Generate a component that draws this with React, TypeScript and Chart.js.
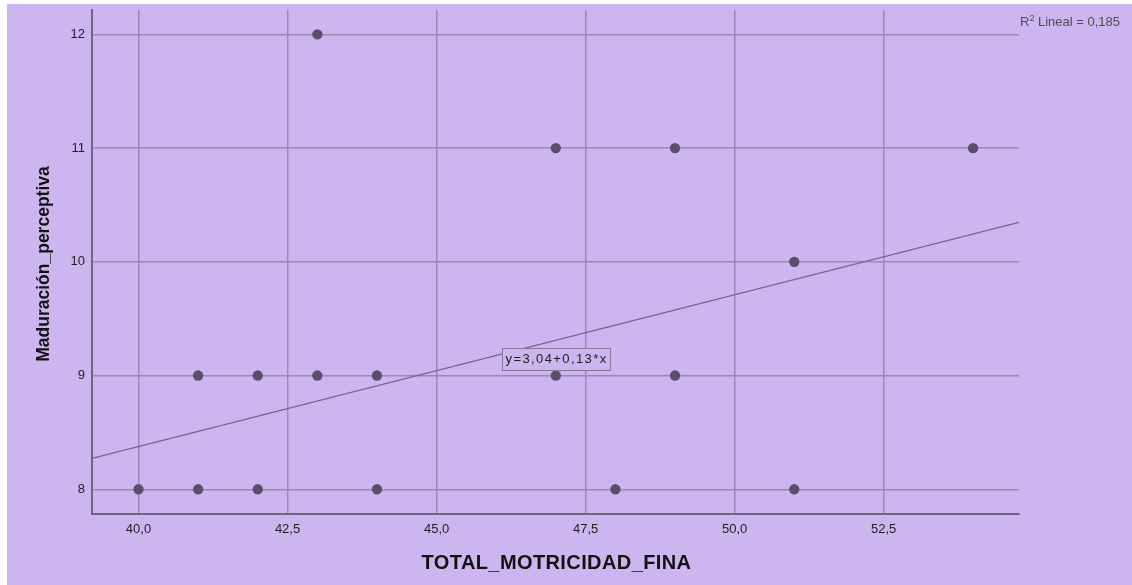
import React, { useEffect, useRef } from 'react';
import { Chart, registerables } from 'chart.js';

Chart.register(...registerables);

// ---- data ----
const xValues = [40, 41, 42, 44, 48, 51, 41, 42, 43, 44, 47, 49, 51, 47, 49, 54, 43];
const yValues = [8, 8, 8, 8, 8, 8, 9, 9, 9, 9, 9, 9, 10, 11, 11, 11, 12];
const xTicks = [40, 42.5, 45, 47.5, 50, 52.5];
const yTicks = [8, 9, 10, 11, 12];
const xRange = [39.22, 54.77];
const yRange = [7.783, 12.214];
const fitIntercept = 3.04;
const fitSlope = 0.1334;
const fitLabel = 'y=3,04+0,13*x';
const fitLabelAt = [47, 9.15];
const r2Value = '0,185';
const xTitle = 'TOTAL_MOTRICIDAD_FINA';
const yTitle = 'Maduración_perceptiva';

const BG = '#CDB6F0';
const GRID = '#9C88B6';
const AXIS = '#6F6482';
const POINT = '#5A4F68';
const FITLINE = '#76648E';
const FONT = '"Liberation Sans", Arial, sans-serif';

const fmtComma = (v: number, d: number) => v.toFixed(d).replace('.', ',');

const textPlugin = {
  id: 'textPlugin',
  afterDraw(chart: any) {
    const { ctx, chartArea, scales } = chart;
    ctx.save();
    // fit label box
    const cx = scales.x.getPixelForValue(fitLabelAt[0]);
    const cy = scales.y.getPixelForValue(fitLabelAt[1]);
    ctx.font = `13px ${FONT}`;
    (ctx as any).letterSpacing = '1.4px';
    const tw = ctx.measureText(fitLabel).width;
    const bw = tw + 6;
    const bh = 22;
    const bx = Math.round(cx - bw / 2) + 0.5;
    const by = Math.round(cy - bh / 2) + 0.5;
    ctx.fillStyle = BG;
    ctx.fillRect(bx, by, bw, bh);
    ctx.strokeStyle = '#857795';
    ctx.lineWidth = 1;
    ctx.strokeRect(bx, by, bw, bh);
    ctx.fillStyle = '#1e1e1e';
    ctx.textAlign = 'left';
    ctx.textBaseline = 'middle';
    ctx.fillText(fitLabel, bx + 3, cy + 1);
    (ctx as any).letterSpacing = '0px';

    // R2 label
    let x = chartArea.right + 1;
    const base = chartArea.top + 16;
    ctx.fillStyle = '#4e4e4e';
    ctx.textBaseline = 'alphabetic';
    ctx.font = `13px ${FONT}`;
    ctx.fillText('R', x, base);
    x += ctx.measureText('R').width;
    ctx.font = `9px ${FONT}`;
    ctx.fillText('2', x, base - 5);
    x += ctx.measureText('2').width;
    ctx.font = `13px ${FONT}`;
    ctx.fillText(' Lineal = ' + r2Value, x, base);

    // axis titles
    ctx.fillStyle = '#111';
    ctx.font = `bold 20px ${FONT}`;
    (ctx as any).letterSpacing = '0.4px';
    ctx.textAlign = 'center';
    ctx.textBaseline = 'middle';
    ctx.fillText(xTitle, (chartArea.left + chartArea.right) / 2 + 1, chartArea.bottom + 49);
    (ctx as any).letterSpacing = '0px';

    ctx.save();
    ctx.translate(37, (chartArea.top + chartArea.bottom) / 2 + 2);
    ctx.rotate(-Math.PI / 2);
    ctx.font = `bold 17.5px ${FONT}`;
    ctx.fillText(yTitle, 0, 0);
    ctx.restore();

    ctx.restore();
  },
};

export default function App() {
  const ref = useRef<HTMLCanvasElement | null>(null);

  useEffect(() => {
    if (!ref.current) return;
    const points = xValues.map((x, i) => ({ x, y: yValues[i] }));
    const fit = [xRange[0], xRange[1]].map((x) => ({ x, y: fitIntercept + fitSlope * x }));

    const chart = new Chart(ref.current, {
      type: 'scatter',
      data: {
        datasets: [
          {
            data: points,
            pointRadius: 5.2,
            pointHoverRadius: 5.2,
            pointBackgroundColor: POINT,
            pointBorderColor: POINT,
            pointBorderWidth: 0,
          },
          {
            type: 'line',
            data: fit,
            showLine: true,
            pointRadius: 0,
            borderColor: FITLINE,
            borderWidth: 1.3,
            fill: false,
          } as any,
        ],
      },
      options: {
        responsive: false,
        animation: false,
        devicePixelRatio: 1,
        layout: { padding: { left: 0, top: 6, right: 113, bottom: 0 } },
        plugins: { legend: { display: false }, tooltip: { enabled: false } },
        scales: {
          x: {
            type: 'linear',
            min: xRange[0],
            max: xRange[1],
            afterBuildTicks: (s: any) => {
              s.ticks = xTicks.map((v) => ({ value: v }));
            },
            afterFit: (s: any) => {
              s.height = 71;
              s.paddingLeft = 0;
              s.paddingRight = 0;
            },
            grid: { color: GRID, lineWidth: 1.5, drawTicks: false },
            border: { display: true, color: AXIS, width: 2 },
            ticks: {
              padding: 8,
              color: '#1e1e1e',
              font: { family: FONT, size: 13 },
              callback: (v: any) => fmtComma(Number(v), 1),
              maxRotation: 0,
            },
          },
          y: {
            type: 'linear',
            min: yRange[0],
            max: yRange[1],
            afterBuildTicks: (s: any) => {
              s.ticks = yTicks.map((v) => ({ value: v }));
            },
            afterFit: (s: any) => {
              s.width = 85;
              s.paddingTop = 0;
              s.paddingBottom = 0;
            },
            grid: { color: GRID, lineWidth: 1.5, drawTicks: false },
            border: { display: true, color: AXIS, width: 2 },
            ticks: {
              padding: 7,
              color: '#1e1e1e',
              font: { family: FONT, size: 13 },
              callback: (v: any) => String(v),
            },
          },
        },
      },
      plugins: [textPlugin],
    });
    return () => chart.destroy();
  }, []);

  return (
    <div style={{ position: 'fixed', left: 0, top: 0, width: 1132, height: 585, background: '#fff' }}>
      <div style={{ position: 'absolute', left: 7, top: 4, width: 1125, height: 581, background: BG }}>
        <canvas ref={ref} width={1125} height={581} style={{ display: 'block' }} />
      </div>
    </div>
  );
}
